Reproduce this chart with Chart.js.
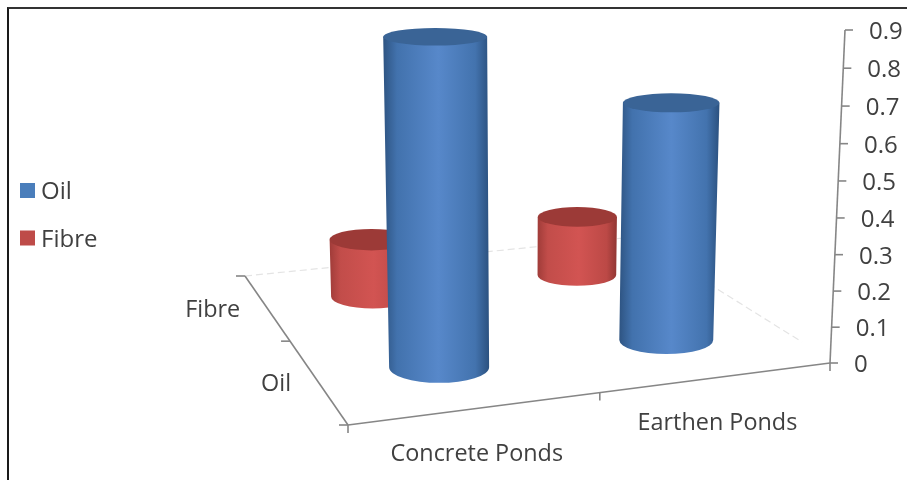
<!DOCTYPE html>
<html>
<head>
<meta charset="utf-8">
<style>
  html, body { margin: 0; padding: 0; background: #fff; overflow: hidden; }
  #wrap { position: relative; width: 907px; height: 480px; }
  #frame { position: absolute; left: 7px; top: 7px; right: 0; bottom: 0; border-left: 2px solid #1a1a1a; border-top: 2px solid #333; }
  canvas { position: absolute; left: 0; top: 0; filter: blur(0.7px); }
</style>
<script src="https://cdn.jsdelivr.net/npm/chart.js@4/dist/chart.umd.min.js"></script>
</head>
<body>
<div id="wrap">
  <canvas id="chart" width="907" height="480"></canvas>
  <div id="frame"></div>
</div>
<script>
const categories = ["Concrete Ponds", "Earthen Ponds"];
const depthLabels = ["Oil", "Fibre"];
const oilValues = [0.89, 0.665];
const fibreValues = [0.17, 0.18];
const yTicks = [0, 0.1, 0.2, 0.3, 0.4, 0.5, 0.6, 0.7, 0.8, 0.9];

const FONT = "'Open Sans'";
const TEXT = "#404040";
const AXIS = "#868686";

// floor of the 3d box on screen: front-left, front-right, back-right, back-left
const floor = { a: [348, 425], b: [830, 363], d: [634, 237], c: [245, 276] };

function makeProjector(f) {
  const [x0, y0] = f.a, [x1, y1] = f.b, [x2, y2] = f.d, [x3, y3] = f.c;
  const sx = x0 - x1 + x2 - x3, sy = y0 - y1 + y2 - y3;
  const dx1 = x1 - x2, dx2 = x3 - x2, dy1 = y1 - y2, dy2 = y3 - y2;
  const den = dx1 * dy2 - dx2 * dy1;
  const g = (sx * dy2 - dx2 * sy) / den;
  const h = (dx1 * sy - sx * dy1) / den;
  const a = x1 - x0 + g * x1, b = x3 - x0 + h * x3;
  const d = y1 - y0 + g * y1, e = y3 - y0 + h * y3;
  return (u, v) => {
    const w = 1 + g * u + h * v;
    return { x: (a * u + b * v + x0) / w, y: (d * u + e * v + y0) / w, w };
  };
}
const project = makeProjector(floor);
const wallW = project(1, 0).w;

const shades = {
  Oil: { dx: 1, top: "#3a6496", stops: ["#2e5482", "#4272ad", "#5788ca", "#4373ae", "#2b517f"] },
  Fibre: { dx: -1.5, top: "#9c3a37", stops: ["#a03c39", "#c24d4a", "#d25452", "#bc4946", "#913633"] },
};

function drawCylinder(ctx, foot, heightPx, shade) {
  const s = 1 / foot.w;
  const rx = 57.3 * Math.pow(s, 1.5);
  const fx = foot.x + shade.dx, fy = foot.y + 1.5;
  const top = {
    x: fx + (fx - 522) * 0.000145 * heightPx,
    y: foot.y - heightPx,
  };
  const rxTop = rx * (1 + heightPx * 0.00012);
  const ratio = (y) => 0.17 + (y - 38) * 0.00043;
  const ryFoot = rx * ratio(fy);
  const ryTop = rxTop * ratio(top.y);

  const left = Math.min(fx - rx, top.x - rxTop);
  const right = Math.max(fx + rx, top.x + rxTop);
  const grad = ctx.createLinearGradient(left, 0, right, 0);
  [0, 0.13, 0.52, 0.87, 1].forEach((p, i) => grad.addColorStop(p, shade.stops[i]));

  ctx.beginPath();
  ctx.moveTo(top.x - rxTop, top.y);
  ctx.lineTo(fx - rx, fy);
  ctx.ellipse(fx, fy, rx, ryFoot, 0, Math.PI, 0, true);
  ctx.lineTo(top.x + rxTop, top.y);
  ctx.closePath();
  ctx.fillStyle = grad;
  ctx.fill();

  ctx.beginPath();
  ctx.ellipse(top.x, top.y, rxTop, ryTop, 0, 0, Math.PI * 2);
  ctx.fillStyle = shade.top;
  ctx.fill();
}

function line(ctx, x0, y0, x1, y1) {
  ctx.beginPath();
  ctx.moveTo(x0, y0);
  ctx.lineTo(x1, y1);
  ctx.stroke();
}

const box3d = {
  id: "box3d",
  beforeDatasetsDraw(chart) {
    const ctx = chart.ctx;
    const { x: xs, y: ys, z: zs } = chart.scales;
    const zero = ys.getPixelForValue(0);
    const uOf = (i) => (xs.getPixelForValue(i) - xs.left) / xs.width;
    const vOf = (j) => (zs.getPixelForValue(j) - zs.left) / zs.width;

    ctx.save();

    // faint back lines of the floor
    ctx.strokeStyle = "#e4e4e4";
    ctx.lineWidth = 1.2;
    ctx.setLineDash([7, 4]);
    line(ctx, floor.c[0], floor.c[1], floor.d[0], floor.d[1]);
    line(ctx, floor.d[0], floor.d[1], floor.b[0] - 28, floor.b[1] - 21);
    ctx.setLineDash([]);

    // floor edges and ticks
    ctx.strokeStyle = AXIS;
    ctx.lineWidth = 1.6;
    line(ctx, floor.a[0], floor.a[1], floor.b[0], floor.b[1]);
    line(ctx, floor.a[0], floor.a[1], floor.c[0], floor.c[1]);
    [0, 0.5, 1].forEach((u) => {
      const p = project(u, 0);
      line(ctx, p.x, p.y, p.x, p.y + 8);
    });
    [0, 0.5, 1].forEach((v) => {
      const p = project(0, v);
      line(ctx, p.x, p.y, p.x - 9, p.y);
    });

    // value axis leans to the right going up
    const wallX = (val) => floor.b[0] + 15 * (val / ys.max);
    const wallY = (val) => {
      const t = val / ys.max;
      return ys.getPixelForValue(val) + 12 * t * (1 - t);
    };
    line(ctx, wallX(0), wallY(0), wallX(ys.max), wallY(ys.max));
    ctx.fillStyle = TEXT;
    ctx.font = `24px ${FONT}`;
    ctx.textAlign = "left";
    ctx.textBaseline = "middle";
    yTicks.forEach((val) => {
      const x = wallX(val), y = wallY(val);
      line(ctx, x, y, x + 8, y);
      ctx.fillText(String(val), x + 24, y + 2);
    });

    // category labels under the front edge, series labels left of the side edge
    ctx.font = `23.4px ${FONT}`;
    ctx.textAlign = "center";
    categories.forEach((label, i) => {
      const p = project(uOf(i), 0);
      ctx.fillText(label, p.x, p.y + 46);
    });
    ctx.textAlign = "right";
    depthLabels.forEach((label, j) => {
      const p = project(0, vOf(j));
      ctx.fillText(label, p.x - 26, p.y + 4);
    });

    // legend
    ctx.font = `24px ${FONT}`;
    ctx.textAlign = "left";
    chart.data.datasets.forEach((ds, j) => {
      const y = 190.5 + j * 47.5;
      ctx.fillStyle = ds.backgroundColor;
      ctx.fillRect(20, y - 7.5, 15, 15);
      ctx.fillStyle = TEXT;
      ctx.fillText(ds.label, 41, y + 2);
    });

    // back row first so the front row covers it
    const metas = chart.getSortedVisibleDatasetMetas();
    [...metas].reverse().forEach((meta) => {
      const ds = chart.data.datasets[meta.index];
      const j = depthLabels.indexOf(ds.label);
      ds.data.forEach((val, i) => {
        const foot = project(uOf(i), vOf(j));
        const heightPx = (zero - ys.getPixelForValue(val)) * (wallW / foot.w);
        drawCylinder(ctx, foot, heightPx, shades[ds.label]);
      });
    });

    ctx.restore();
  },
  beforeDatasetDraw() {
    return false; // cylinders replace the flat bars
  },
};

new Chart(document.getElementById("chart").getContext("2d"), {
  type: "bar",
  data: {
    labels: categories,
    datasets: [
      { label: "Oil", data: oilValues, backgroundColor: "#4a7ebb" },
      { label: "Fibre", data: fibreValues, backgroundColor: "#be4b48" },
    ],
  },
  options: {
    responsive: false,
    animation: false,
    layout: { padding: { left: 10, right: 60, top: 30, bottom: 117 } },
    plugins: {
      tooltip: { enabled: false },
      legend: { display: false },
    },
    scales: {
      x: { display: false },
      z: { type: "category", axis: "x", labels: depthLabels, display: false },
      y: { display: false, min: 0, max: 0.9, position: "right" },
    },
  },
  plugins: [box3d],
});
</script>
</body>
</html>
